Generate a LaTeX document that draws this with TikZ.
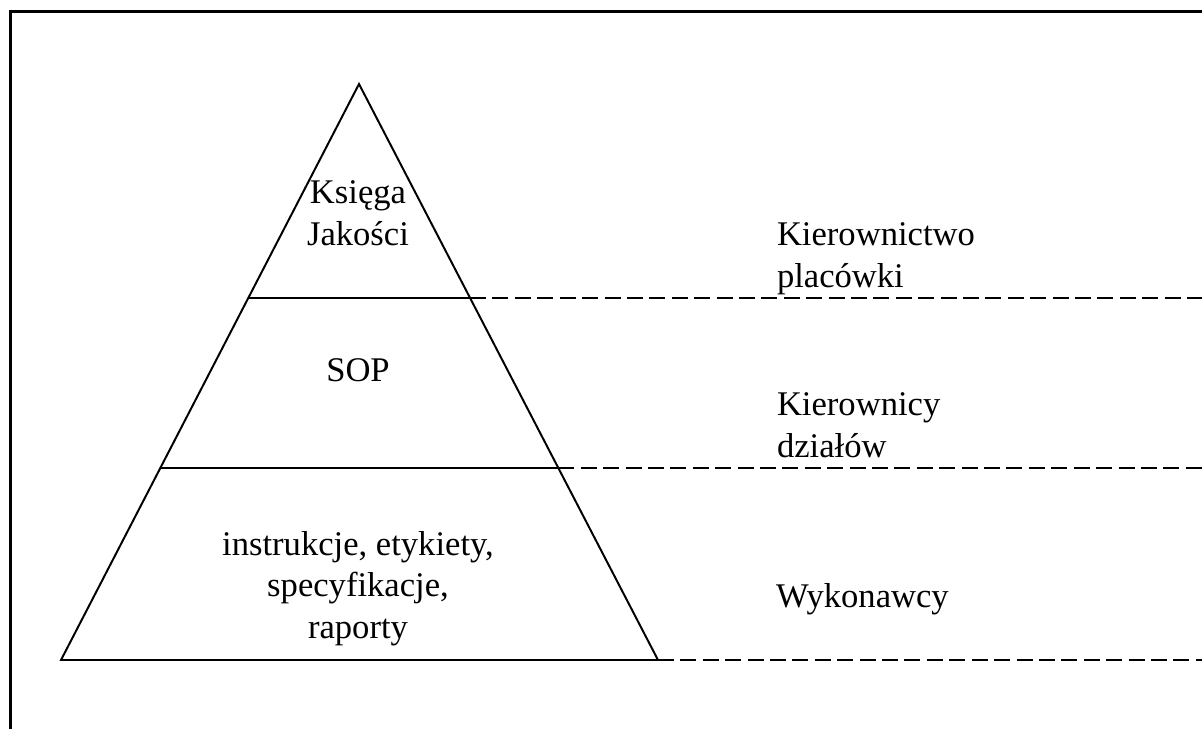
\documentclass[tikz,border=0pt]{standalone}
\usepackage{fontspec}
\setmainfont{Liberation Serif}
\usetikzlibrary{calc}

\begin{document}
\begin{tikzpicture}[x=0.025cm,y=-0.025cm]

\tikzstyle{edge} = [draw=black, line width=1.4pt]
\tikzstyle{guide} = [draw=black, line width=1.4pt,
    dash pattern=on 0.4cm off 0.16cm]
\tikzstyle{sidetext} = [inner sep=0, outer sep=0,
    font=\fontsize{24.6}{29.2}\selectfont, align=left]
\tikzstyle{tiertext} = [inner sep=0, outer sep=0,
    font=\fontsize{24.6}{29.2}\selectfont, align=center]

\useasboundingbox (0,0) rectangle (1202,729);

% =========================
% frame
% =========================
\draw[line width=2.1pt] (10.5,729) -- (10.5,11.5) -- (1202,11.5);

% =========================
% pyramid
% =========================
\coordinate (apex) at (359,84);
\coordinate (bl) at (61,660);
\coordinate (br) at (658,660);
\coordinate (edgeR) at (1202,0);

\draw[edge] (bl) -- (apex) -- (br) -- cycle;

% tier borders
\coordinate (topL) at ($(apex)!0.3715!(bl)$);
\coordinate (topR) at ($(apex)!0.3715!(br)$);
\coordinate (midL) at ($(apex)!0.6667!(bl)$);
\coordinate (midR) at ($(apex)!0.6667!(br)$);

\draw[edge] (topL) -- (topR);
\draw[edge] (midL) -- (midR);

% dashed guides to the right
\draw[guide] (topR) -- (topR -| edgeR);
\draw[guide] (midR) -- (midR -| edgeR);
\draw[guide] (br) -- (br -| edgeR);

% =========================
% tier texts (base = last line)
% =========================
\node[tiertext, anchor=base] (manual) at (358,245) {Księga\\Jakości};
\node[tiertext, anchor=base] (sop) at (358,381) {SOP};
\node[tiertext, anchor=base] (docs) at (358,638)
    {instrukcje, etykiety,\\specyfikacje,\\raporty};

% =========================
% who uses them
% =========================
\node[sidetext, anchor=base west] (board) at (777,287) {Kierownictwo\\placówki};
\node[sidetext, anchor=base west] (heads) at (777,457) {Kierownicy\\działów};
\node[sidetext, anchor=base west] (staff) at (776,607) {Wykonawcy};

\end{tikzpicture}
\end{document}
